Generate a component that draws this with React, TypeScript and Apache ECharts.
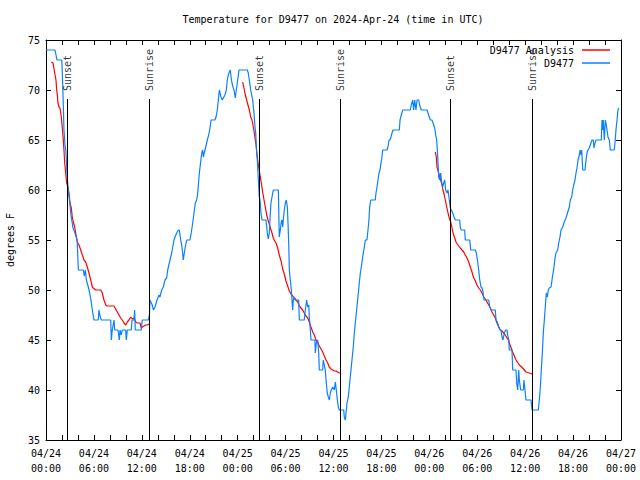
import React, { useEffect, useRef } from "react";
import * as echarts from "echarts";

// Hours since 2024-04-24 00:00 UTC, temperature in degrees F
const observedD9477: [number, number][] = [
  [0,74],[1.13,74],[1.38,73],[1.98,73],[2.07,71],[2.13,69.5],[2.25,66],[2.38,64.5],[2.5,63.8],[2.63,61.7],[2.75,60.3],[2.97,58.7],[3.13,57.5],[3.38,56.2],[3.5,56],[3.9,55],[4.0,53],[4.05,52],[4.68,52],[4.8,51.4],[4.93,52],[5.05,51],[5.3,50.3],[5.47,49.7],[5.63,49],[5.8,48],[6.0,47],[6.55,47],[6.63,48],[6.8,47.3],[6.93,47],[8.1,47],[8.18,45],[8.3,46],[8.52,47],[8.6,46],[9.02,46],[9.18,45],[9.27,46],[9.43,45.5],[9.55,46],[9.98,46],[10.05,45],[10.18,46],[10.68,46],[10.77,47],[11.02,47],[11.1,48],[11.18,46],[11.93,46],[12.05,47],[12.8,47],[12.95,47.5],[13.02,49],[13.1,49],[13.3,48.5],[13.45,48],[13.65,48.3],[13.9,49],[14.15,49.5],[14.27,49.3],[14.49,50],[14.69,50.3],[14.9,51],[15.11,51.2],[15.24,52],[15.44,52.7],[15.53,53],[15.74,53.7],[15.87,54.3],[16.03,55],[16.15,55.3],[16.37,55.7],[16.57,56],[16.69,56],[16.87,55],[17.03,54.3],[17.19,53],[17.28,53.5],[17.44,54.3],[17.62,55],[18.03,55],[18.24,56],[18.37,56.7],[18.53,57.7],[18.7,58.7],[18.87,59],[19.0,59.7],[19.2,61.7],[19.32,62.5],[19.5,63.7],[19.62,64],[19.7,63.3],[19.82,63.7],[20.0,64.3],[20.2,65],[20.37,65.5],[20.54,66.2],[20.66,67],[21.16,67],[21.29,67.3],[21.45,68],[21.58,69],[21.7,70],[21.79,69.7],[21.91,69.3],[22.08,69],[22.2,69.2],[22.41,69.5],[22.58,70],[22.7,71],[22.83,71.5],[22.95,71.8],[23.08,72],[23.17,71.3],[23.29,70.7],[23.42,70.3],[23.54,70],[23.7,69.2],[23.83,70],[24.0,71],[24.17,72],[25.21,72],[25.33,71.7],[25.46,71],[25.63,70],[25.88,69],[26.04,67.7],[26.17,66.3],[26.26,65.7],[26.38,63.7],[26.46,63],[26.55,61.7],[26.63,60.3],[26.71,59.3],[26.8,59],[26.92,57.7],[27.05,57],[27.55,57],[27.64,56.3],[27.71,55.7],[27.84,55.1],[27.96,55.7],[28.09,57.7],[28.17,58.7],[28.3,59.3],[28.46,60],[29.1,60],[29.15,57.7],[29.21,55.3],[29.34,56],[29.46,56.8],[29.55,57],[29.64,56.3],[29.71,57],[29.84,58],[29.97,58.7],[30.09,59],[30.22,58.3],[30.3,56.8],[30.39,54.7],[30.47,52],[30.59,51],[30.72,50],[30.8,49],[30.89,48],[30.97,49],[31.09,49.3],[31.22,49],[31.64,49],[31.72,47],[32.34,47],[32.47,48],[32.64,49],[32.77,48.3],[32.9,48.5],[32.97,47.3],[33.1,46],[33.18,45],[33.68,45],[33.72,43.7],[33.85,44.7],[34.02,45],[34.15,43.7],[34.22,42],[34.65,42],[34.72,43],[34.85,42.5],[34.97,42],[35.1,40.7],[35.22,39.7],[35.35,39.3],[35.47,39],[35.6,39.7],[35.72,40],[35.9,40.3],[36.1,40],[36.23,40.8],[36.35,40],[36.48,39],[36.6,38.3],[36.73,38],[37.28,38],[37.35,37.3],[37.48,37],[37.57,37.7],[37.69,38.7],[37.85,39.3],[37.98,40.3],[38.1,41.3],[38.23,42.3],[38.35,43.3],[38.48,44.3],[38.61,45.7],[38.73,46.7],[38.86,47.7],[38.98,48.7],[39.11,49.7],[39.23,50.7],[39.36,51.7],[39.48,52.3],[39.61,53],[39.73,53.7],[39.86,54.3],[39.98,55],[40.19,55],[40.28,55.7],[40.41,56.7],[40.53,58.3],[40.66,59],[41.23,59],[41.32,59.7],[41.45,60.3],[41.57,61],[41.7,61.7],[41.82,62],[41.95,62.7],[42.07,63.3],[42.16,64],[42.7,64],[42.82,64.3],[42.95,65],[43.08,65],[43.2,65.3],[43.33,65.7],[43.45,66],[44.24,66],[44.33,67],[44.49,67.5],[44.67,68],[45.62,68],[45.74,68.5],[45.92,69],[46.04,68],[46.17,69],[46.33,68],[46.46,69],[46.67,69],[46.79,68.5],[46.99,68],[47.71,68],[47.83,67.7],[48.0,67.3],[48.12,67],[48.33,67],[48.55,66.5],[48.67,66.2],[48.8,65.5],[48.92,65],[49.0,64],[49.09,62.7],[49.17,61.3],[49.3,61],[49.42,61.7],[49.55,60.7],[49.67,60.3],[49.8,60.7],[49.92,61],[50.05,60],[50.21,59.7],[50.34,60],[50.5,59],[50.63,58.2],[50.75,58],[50.93,57.7],[51.09,57.3],[51.25,57],[51.8,57],[51.88,56.2],[52.0,56],[52.43,56],[52.5,55],[53.06,55],[53.18,54],[53.76,54],[53.88,53.7],[54.06,52.8],[54.18,52],[54.31,51],[54.47,50.3],[54.6,50.2],[54.72,49.8],[54.85,49],[55.44,49],[55.56,48.3],[55.76,48],[56.26,48],[56.35,47],[56.51,46.8],[56.69,46.3],[56.85,46],[56.97,46],[57.1,45.3],[57.22,45],[57.39,45.7],[57.56,46],[57.73,46],[57.81,45.5],[57.94,45],[58.01,44],[58.35,44],[58.44,42],[58.85,42],[58.94,40.7],[59.07,40],[59.19,42],[59.27,41],[59.44,40],[59.77,40],[59.85,41],[59.98,40],[60.1,39],[60.73,39],[60.86,38],[61.65,38],[61.77,39],[61.9,40.3],[62.02,42],[62.15,43.7],[62.27,45.7],[62.4,47],[62.52,48.3],[62.65,49.7],[62.77,49.3],[62.9,50],[63.02,50.2],[63.24,50.3],[63.36,51],[63.49,51.7],[63.61,52.3],[63.74,53.2],[63.86,53.7],[64.07,54],[64.2,54.7],[64.36,55.3],[64.49,56],[64.7,56.3],[64.9,56.8],[65.11,57.2],[65.33,57.8],[65.53,58.3],[65.65,59],[65.83,59.3],[65.95,60],[66.08,60.5],[66.24,61],[66.37,61.7],[66.49,62.2],[66.62,63],[66.78,63.5],[66.87,64],[66.99,63.5],[67.08,64],[67.21,62],[67.49,62],[67.62,63],[67.74,63.7],[67.87,64],[68.03,64.2],[68.24,64.7],[68.37,65],[68.53,65],[68.62,64.2],[68.75,64.7],[68.87,65],[69.53,65],[69.62,67],[69.71,66],[69.78,67],[69.91,65],[70.04,67],[70.12,66.7],[70.25,66],[70.37,65.3],[70.54,65],[70.66,64],[71.16,64],[71.28,65],[71.37,66],[71.5,67],[71.62,68],[71.71,68.2]
];

const analysisNight1: [number, number][] = [
  [0.66,72.8],[0.88,72.7],[1.09,71.7],[1.25,71],[1.34,70],[1.42,69.5],[1.5,68.7],[1.63,68.3],[1.75,68.2],[1.92,67.3],[2.04,66.2],[2.17,65],[2.25,64],[2.34,62.7],[2.47,61.7],[2.59,60.7],[2.75,60.3],[2.88,59.7],[3.01,58.7],[3.17,58.2],[3.29,57.3],[3.42,56.8],[3.59,56.3],[3.72,55.7],[3.92,54.8],[4.13,54.5],[4.35,54],[4.55,53.5],[4.76,53],[4.97,52.8],[5.17,52.3],[5.38,51.7],[5.6,51],[5.8,50.3],[5.92,50.2],[6.22,50],[6.85,50],[7.05,49.7],[7.26,49],[7.48,48.5],[7.68,48.4],[8.1,48.4],[8.51,48.4],[8.93,47.8],[9.14,47.5],[9.35,47.2],[9.55,47],[9.77,46.7],[9.98,46.5],[10.18,46.8],[10.39,47],[10.61,47.3],[10.81,47.1],[11.02,47.2],[11.23,46.8],[11.43,46.7],[11.77,46.7],[11.93,46.2],[12.06,46.3],[12.27,46.4],[12.48,46.5],[12.68,46.5],[12.9,46.6]
];
const analysisNight2: [number, number][] = [
  [24.63,70.8],[24.79,70.2],[24.96,69.5],[25.13,69],[25.29,68.5],[25.46,68],[25.63,67.3],[25.8,67],[25.96,66.3],[26.08,65.7],[26.21,65],[26.33,64.3],[26.46,63.3],[26.63,62.3],[26.8,61.5],[26.96,60.7],[27.13,59.8],[27.3,59],[27.46,58.3],[27.64,57.5],[27.8,57],[27.96,56.6],[28.14,56.1],[28.3,55.7],[28.46,55.2],[28.64,54.9],[28.8,54.7],[29.01,54.2],[29.21,53.5],[29.43,52.9],[29.64,52.1],[29.84,51.6],[30.05,50.9],[30.26,50.4],[30.47,49.9],[30.68,49.6],[30.89,49.4],[31.09,49.2],[31.3,49],[31.52,48.8],[31.72,48.4],[31.93,48.2],[32.14,48],[32.34,47.7],[32.56,47.4],[32.77,47.2],[32.97,46.8],[33.18,46.3],[33.4,45.8],[33.6,45.5],[33.81,45],[34.02,44.8],[34.22,44.4],[34.44,44.1],[34.65,43.8],[34.85,43.4],[35.06,43],[35.27,42.7],[35.47,42.3],[35.69,42.1],[35.9,42],[36.1,41.9],[36.31,41.9],[36.53,41.8],[36.73,41.7],[36.85,41.7]
];
const analysisNight3: [number, number][] = [
  [48.75,63.8],[48.87,63.3],[48.96,62.3],[49.17,61.7],[49.3,61.3],[49.42,61],[49.59,60.5],[49.71,60],[49.87,59.5],[50.0,59],[50.18,58.3],[50.34,57.7],[50.5,57.2],[50.68,56.8],[50.84,56.2],[51.0,55.6],[51.18,55.2],[51.34,54.8],[51.5,54.6],[51.68,54.4],[51.88,54.2],[52.09,54],[52.31,53.8],[52.5,53.5],[52.72,53.2],[52.93,52.8],[53.13,52.3],[53.34,51.8],[53.56,51.2],[53.76,50.9],[53.97,50.5],[54.18,50.2],[54.38,50],[54.6,49.7],[54.81,49.3],[55.01,49.1],[55.22,48.8],[55.43,48.5],[55.64,48.2],[55.85,47.8],[56.06,47.5],[56.26,47.2],[56.47,46.7],[56.69,46.3],[56.89,46],[57.1,45.9],[57.51,45.5],[57.72,45.2],[57.94,45],[58.01,44.7],[58.44,43.8],[58.85,43],[59.27,42.5],[59.69,42.2],[60.1,41.8],[60.53,41.7],[60.86,41.6]
];

const sunEventNames = ["Sunset", "Sunrise", "Sunset", "Sunrise", "Sunset", "Sunrise"];
const sunEventHours = [2.67, 12.94, 26.71, 36.83, 50.63, 60.88];
const sunLineTop = 69.1;
const sunLabelBase = 69.8;

const startDay = 24;
const monthLabel = "04";
const titleText = "Temperature for D9477 on 2024-Apr-24 (time in UTC)";
const yAxisName = "degrees F";
const analysisName = "D9477 Analysis";
const observedName = "D9477";

const FONT = "'DejaVu Sans Mono', 'Liberation Mono', monospace";
const RED = "#ff0000";
const BLUE = "#0a80ff";

function fmtX(v: number): string {
  const day = startDay + Math.floor(v / 24);
  const hr = Math.round(v % 24);
  return `${monthLabel}/${day}\n${String(hr).padStart(2, "0")}:00`;
}

export default function App() {
  const ref = useRef<HTMLDivElement>(null);
  useEffect(() => {
    if (!ref.current) return;
    const chart = echarts.init(ref.current, undefined, { renderer: "svg" });
    const tickStyle = { color: "#000", width: 1 };
    const baseX = {
      type: "value",
      min: 0,
      max: 72,
      interval: 6,
      axisLine: { show: true, onZero: false, lineStyle: { color: "#000", width: 1 } },
      axisTick: { show: true, inside: true, length: 5, lineStyle: tickStyle },
      minorTick: { show: true, splitNumber: 3, length: 5, lineStyle: tickStyle },
      splitLine: { show: false },
    };
    const baseY = {
      type: "value",
      min: 35,
      max: 75,
      interval: 5,
      axisLine: { show: true, onZero: false, lineStyle: { color: "#000", width: 1 } },
      axisTick: { show: true, inside: true, length: 5, lineStyle: tickStyle },
      splitLine: { show: false },
    };
    const analysisSeries = [analysisNight1, analysisNight2, analysisNight3].map((d) => ({
      name: analysisName,
      type: "line",
      data: d,
      showSymbol: false,
      symbol: "none",
      lineStyle: { color: RED, width: 1.2 },
      itemStyle: { color: RED },
      z: 2,
    }));
    const legendCommon = {
      align: "right",
      icon: "rect",
      itemWidth: 28,
      itemHeight: 1.5,
      padding: 0,
      textStyle: { fontFamily: FONT, fontSize: 10, color: "#000", padding: [0, 3, 0, 0] },
      selectedMode: false,
    };
    chart.setOption({
      animation: false,
      backgroundColor: "#fff",
      textStyle: { fontFamily: FONT },
      title: {
        text: titleText,
        left: 333,
        top: 14,
        padding: 0,
        textAlign: "center",
        textStyle: { fontFamily: FONT, fontSize: 10, fontWeight: "normal", color: "#000" },
      },
      legend: [
        { ...legendCommon, data: [analysisName], right: 30, top: 45 },
        { ...legendCommon, data: [observedName], right: 30, top: 58 },
      ],
      grid: {
        left: 46,
        right: 19,
        top: 40,
        bottom: 40,
        containLabel: false,
        outerBoundsMode: "none",
      },
      xAxis: [
        {
          ...baseX,
          position: "bottom",
          axisLabel: {
            formatter: fmtX,
            fontFamily: FONT,
            fontSize: 10,
            color: "#000",
            margin: 6,
            lineHeight: 15,
          },
        },
        { ...baseX, position: "top", axisLabel: { show: false } },
      ],
      yAxis: [
        {
          ...baseY,
          position: "left",
          name: yAxisName,
          nameLocation: "middle",
          nameGap: 31,
          nameRotate: 90,
          nameTextStyle: { fontFamily: FONT, fontSize: 10, color: "#000" },
          axisLabel: { fontFamily: FONT, fontSize: 10, color: "#000", margin: 6 },
        },
        { ...baseY, position: "right", axisLabel: { show: false } },
      ],
      series: [
        ...analysisSeries,
        {
          name: observedName,
          type: "line",
          data: observedD9477,
          showSymbol: false,
          symbol: "none",
          lineStyle: { color: BLUE, width: 1.2 },
          itemStyle: { color: BLUE },
          z: 3,
        },
        {
          name: "sun",
          type: "scatter",
          symbolSize: 0,
          data: sunEventNames.map((n, i) => ({ name: n, value: [sunEventHours[i], sunLabelBase] })),
          label: {
            show: true,
            formatter: (p: any) => p.name,
            position: "inside",
            rotate: 90,
            align: "left",
            verticalAlign: "middle",
            offset: [1, 0],
            fontFamily: FONT,
            fontSize: 10,
            color: "#000",
          },
          markLine: {
            silent: true,
            symbol: ["none", "none"],
            label: { show: false },
            lineStyle: { color: "#000", width: 1, type: "solid" },
            data: sunEventHours.map((h) => [
              { coord: [h, 35] },
              { coord: [h, sunLineTop] },
            ]),
          },
          z: 4,
        },
      ],
    });
    return () => chart.dispose();
  }, []);
  return (
    <div
      ref={ref}
      style={{ position: "absolute", left: 0, top: 0, width: 640, height: 480 }}
    />
  );
}
